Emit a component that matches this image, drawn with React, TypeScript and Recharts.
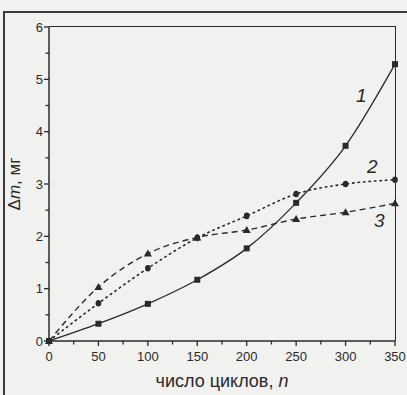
import React from 'react';
import { ComposedChart, Line, XAxis, YAxis, ReferenceDot } from 'recharts';

const cycles = [0, 50, 100, 150, 200, 250, 300, 350];
const series1 = [0, 0.33, 0.71, 1.17, 1.77, 2.64, 3.73, 5.29];
const series2 = [0, 0.72, 1.39, 1.97, 2.39, 2.81, 3.0, 3.08];
const series3 = [0, 1.03, 1.67, 1.98, 2.12, 2.33, 2.46, 2.63];
const xMajorTicks = [0, 50, 100, 150, 200, 250, 300, 350];
const xMinorTicks = [25, 75, 125, 175, 225, 275, 325];
const yMajorTicks = [0, 1, 2, 3, 4, 5, 6];
const yMinorTicks = [0.5, 1.5, 2.5, 3.5, 4.5, 5.5];
const curveLabels = [
  { text: '1', x: 316, y: 4.7 },
  { text: '2', x: 327, y: 3.34 },
  { text: '3', x: 334, y: 2.31 },
];

const data = cycles.map((n, i) => ({ n, s1: series1[i], s2: series2[i], s3: series3[i] }));
const xAllTicks = [...xMajorTicks, ...xMinorTicks].sort((a, b) => a - b);
const yAllTicks = [...yMajorTicks, ...yMinorTicks].sort((a, b) => a - b);

const INK = '#2a2a2a';
const FONT = '"Liberation Sans", Arial, sans-serif';

const Square = (props: any) => {
  const { cx, cy } = props;
  if (cx == null || cy == null) return null;
  return <rect x={cx - 3} y={cy - 3} width={6} height={6} fill={INK} />;
};
const Circle = (props: any) => {
  const { cx, cy } = props;
  if (cx == null || cy == null) return null;
  return <ellipse cx={cx} cy={cy} rx={2.8} ry={3.3} fill={INK} />;
};
const Triangle = (props: any) => {
  const { cx, cy } = props;
  if (cx == null || cy == null) return null;
  return <polygon points={`${cx},${cy - 4} ${cx - 4},${cy + 3} ${cx + 4},${cy + 3}`} fill={INK} />;
};

const XTick = (props: any) => {
  const { x, y, payload } = props;
  const v = Number(payload.value);
  const major = xMajorTicks.includes(v);
  return (
    <g>
      <line x1={x} x2={x} y1={y} y2={y + (major ? 5 : 3.5)} stroke={INK} strokeWidth={1.3} />
      {major && (
        <text x={x} y={y + 20} textAnchor="middle" fontSize={13} fontFamily={FONT} fill={INK}>
          {v}
        </text>
      )}
    </g>
  );
};

const YTick = (props: any) => {
  const { x, y, payload } = props;
  const v = Number(payload.value);
  const major = yMajorTicks.includes(v);
  return (
    <g>
      <line x1={x} x2={x - (major ? 5 : 3.5)} y1={y} y2={y} stroke={INK} strokeWidth={1.3} />
      {major && (
        <text x={x - 6} y={y + 4.5} textAnchor="end" fontSize={13} fontFamily={FONT} fill={INK}>
          {v}
        </text>
      )}
    </g>
  );
};

const YLabel = (props: any) => {
  const vb = props.viewBox || {};
  const cy = (vb.y || 0) + (vb.height || 0) / 2;
  const x = 20;
  return (
    <text
      x={x}
      y={cy}
      transform={`rotate(-90 ${x} ${cy})`}
      textAnchor="middle"
      fontSize={17}
      fontFamily={FONT}
      fill={INK}
    >
      <tspan>Δ</tspan>
      <tspan fontStyle="italic">m</tspan>
      <tspan>, мг</tspan>
    </text>
  );
};

const XLabel = (props: any) => {
  const vb = props.viewBox || {};
  const cx = (vb.x || 0) + (vb.width || 0) / 2;
  return (
    <text x={cx} y={387} textAnchor="middle" fontSize={18} fontFamily={FONT} fill={INK}>
      <tspan>число циклов, </tspan>
      <tspan fontStyle="italic">n</tspan>
    </text>
  );
};

export default function App() {
  return (
    <div style={{ position: 'absolute', left: 0, top: 0, width: 407, height: 395, background: '#f1f1f0', overflow: 'hidden' }}>
      <div
        style={{
          position: 'absolute',
          left: 3,
          top: 11,
          width: 410,
          height: 400,
          borderLeft: '2px solid #3a3a3a',
          borderTop: '2px solid #3a3a3a',
        }}
      />
      <div
        style={{
          position: 'absolute',
          left: 49,
          top: 26.25,
          width: 346.75,
          height: 315,
          borderTop: '1.5px solid ' + INK,
          borderRight: '1.5px solid ' + INK,
          boxSizing: 'border-box',
        }}
      />
      <ComposedChart
        width={407}
        height={395}
        data={data}
        margin={{ top: 27, right: 12, bottom: 0, left: 0 }}
        style={{ position: 'absolute', left: 0, top: 0 }}
      >
        <XAxis
          xAxisId="main"
          dataKey="n"
          type="number"
          domain={[0, 350]}
          ticks={xAllTicks}
          interval={0}
          tickSize={0}
          tickMargin={0}
          height={54}
          tick={XTick}
          tickLine={false}
          axisLine={{ stroke: INK, strokeWidth: 1.5 }}
          label={<XLabel />}
        />
        <YAxis
          yAxisId="main"
          type="number"
          domain={[0, 6]}
          ticks={yAllTicks}
          interval={0}
          tickSize={0}
          tickMargin={0}
          width={49}
          tick={YTick}
          tickLine={false}
          axisLine={{ stroke: INK, strokeWidth: 1.5 }}
          label={<YLabel />}
        />
        <Line
          xAxisId="main"
          yAxisId="main"
          type="monotone"
          dataKey="s1"
          stroke={INK}
          strokeWidth={1.3}
          dot={<Square />}
          isAnimationActive={false}
        />
        <Line
          xAxisId="main"
          yAxisId="main"
          type="monotone"
          dataKey="s2"
          stroke={INK}
          strokeWidth={1.6}
          strokeDasharray="1.5 4"
          strokeLinecap="round"
          dot={<Circle />}
          isAnimationActive={false}
        />
        <Line
          xAxisId="main"
          yAxisId="main"
          type="monotone"
          dataKey="s3"
          stroke={INK}
          strokeWidth={1.4}
          strokeDasharray="6 4"
          dot={<Triangle />}
          isAnimationActive={false}
        />
        {curveLabels.map((c) => (
          <ReferenceDot
            key={c.text}
            xAxisId="main"
            yAxisId="main"
            x={c.x}
            y={c.y}
            r={0}
            fill="none"
            stroke="none"
            label={{
              value: c.text,
              position: 'center',
              fontSize: 19,
              fontStyle: 'italic',
              fontFamily: FONT,
              fill: INK,
            }}
          />
        ))}
      </ComposedChart>
    </div>
  );
}
